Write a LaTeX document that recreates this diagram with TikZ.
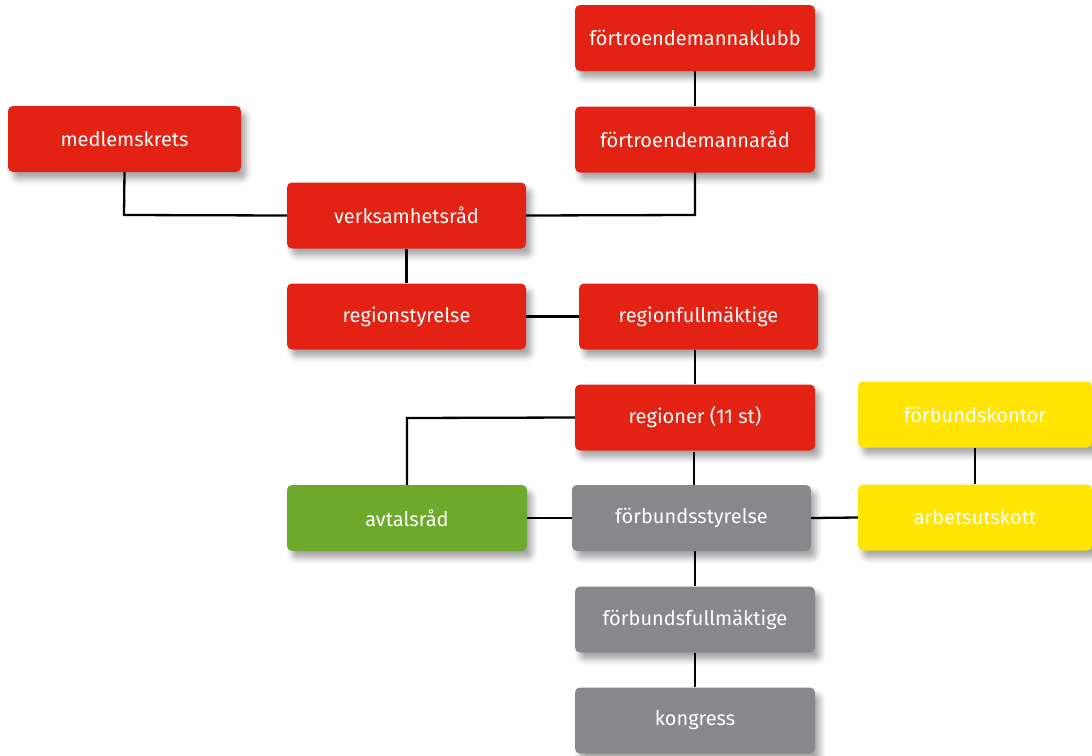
\documentclass[tikz,border=0pt]{standalone}
\usepackage{fontspec}
\setmainfont{Fira Sans}
\usetikzlibrary{shadows.blur}
\definecolor{cred}{HTML}{E32213}
\definecolor{cgreen}{HTML}{6DAA2C}
\definecolor{cgray}{HTML}{88878C}
\definecolor{cyellow}{HTML}{FFE500}
\tikzset{
  box/.style={rounded corners=5pt, minimum height=66pt, inner sep=0pt,
    text=white, font=\fontsize{20}{22}\selectfont,
    blur shadow={shadow xshift=5pt, shadow yshift=-7pt, shadow blur radius=6pt, shadow opacity=35}},
  redbox/.style={box, fill=cred},
  greenbox/.style={box, fill=cgreen},
  graybox/.style={box, fill=cgray},
  yellowbox/.style={box, fill=cyellow},
  conn/.style={draw=black, line width=2.3pt},
}
\begin{document}
\begin{tikzpicture}[x=1pt,y=-1pt]
\useasboundingbox (0,0) rectangle (1092,755);
\coordinate (c1) at (695,215);
\coordinate (c2) at (124,215);
\coordinate (c3) at (407,418);
\coordinate (c4) at (694,452);
\coordinate (c5) at (694,485);
\node[redbox, minimum width=240pt] (klubb) at (695,38) {förtroendemannaklubb};
\node[redbox, minimum width=240pt] (rad) at (695,139.5) {förtroendemannaråd};
\node[redbox, minimum width=233pt] (medlem) at (124.5,139) {medlemskrets};
\node[redbox, minimum width=239pt] (verk) at (406.5,215.5) {verksamhetsråd};
\node[redbox, minimum width=239pt] (regst) at (406.5,316.5) {regionstyrelse};
\node[redbox, minimum width=239pt] (regfm) at (698.5,316.5) {regionfullmäktige};
\node[redbox, minimum width=240pt] (regioner) at (695,417.5) {regioner (11 st)};
\node[greenbox, minimum width=240pt] (avtal) at (407,518) {avtalsråd};
\node[graybox, minimum width=239pt] (fst) at (691.5,518) {förbundsstyrelse};
\node[yellowbox, minimum width=234pt] (kontor) at (975,414.5) {förbundskontor};
\node[yellowbox, minimum width=234pt] (au) at (975,517.5) {arbetsutskott};
\node[graybox, minimum width=240pt] (ffm) at (695,619.5) {förbundsfullmäktige};
\node[graybox, minimum width=240pt] (kong) at (695,720.5) {kongress};
\draw[conn] (klubb.south) -- (rad.north);
\draw[conn] (rad.south) -- (c1) -- (verk.east);
\draw[conn] (medlem.south) -- (c2) -- (verk.west);
\draw[conn] (verk.south) -- (regst.north);
\draw[conn] (regst.east) -- (regfm.west);
\draw[conn] (regfm.south -| regioner.north) -- (regioner.north);
\draw[conn] (regioner.west) -- (c3) -- (avtal.north);
\draw[conn] (c4) -- (c5);
\draw[conn] (avtal.east) -- (fst.west);
\draw[conn] (fst.east) -- (au.west);
\draw[conn] (kontor.south) -- (au.north);
\draw[conn] (fst.south -| ffm.north) -- (ffm.north);
\draw[conn] (ffm.south) -- (kong.north);
\end{tikzpicture}
\end{document}
